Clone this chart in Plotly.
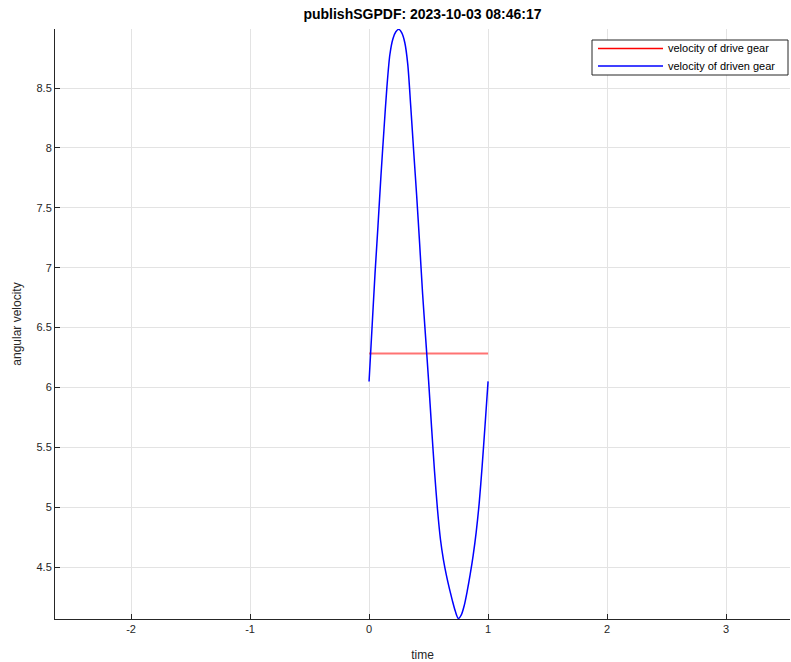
import plotly.graph_objects as go

# Drive gear: constant angular velocity over one period
drive_t = [0.0, 1.0]
drive_v = [6.283, 6.283]

# Driven gear: values
driven_t = [0.0, 0.025, 0.05, 0.075, 0.1, 0.125, 0.15, 0.175, 0.2, 0.225,
            0.25, 0.275, 0.3, 0.325, 0.35, 0.375, 0.4, 0.425, 0.45, 0.475,
            0.5, 0.525, 0.55, 0.575, 0.6, 0.625, 0.65, 0.675, 0.7, 0.725,
            0.75, 0.775, 0.8, 0.825, 0.85, 0.875, 0.9, 0.925, 0.95, 0.975, 1.0]
driven_v = [6.05, 6.50, 6.95, 7.35, 7.77, 8.15, 8.51, 8.78, 8.91, 8.97,
            8.99, 8.96, 8.88, 8.70, 8.35, 7.97, 7.60, 7.20, 6.78, 6.42,
            6.06, 5.67, 5.30, 4.98, 4.73, 4.56, 4.43, 4.32, 4.22, 4.13,
            4.07, 4.10, 4.18, 4.30, 4.44, 4.60, 4.79, 5.03, 5.34, 5.69, 6.05]

x_ticks = [-2, -1, 0, 1, 2, 3]
y_ticks = [4.5, 5, 5.5, 6, 6.5, 7, 7.5, 8, 8.5]

series_names = ["velocity of drive gear", "velocity of driven gear"]
series_colors = ["#ff0000", "#0000ff"]

font_family = "Liberation Sans, Arial, Helvetica, sans-serif"
axis_color = "#262626"
grid_color = "#e3e3e3"

fig = go.Figure()
fig.add_trace(go.Scatter(x=drive_t, y=drive_v, mode="lines",
                         name=series_names[0], showlegend=False,
                         line=dict(color="rgba(255,0,0,0.55)", width=2)))
fig.add_trace(go.Scatter(x=driven_t, y=driven_v, mode="lines",
                         name=series_names[1], showlegend=False,
                         line=dict(color=series_colors[1], width=1.5,
                                   shape="spline", smoothing=0.8)))

W, H = 791, 662
# plot area in window pixels: left 55, right 790, top 29, bottom 619
ml, mr, mt, mb = 55, W - 790, 29, H - 619
pw, ph = W - ml - mr, H - mt - mb


def px(xw):
    return (xw - ml) / pw


def py(yw):
    return (H - mb - yw) / ph


shapes = [dict(type="rect", xref="paper", yref="paper",
               x0=px(592), x1=px(788), y0=py(75), y1=py(40),
               line=dict(color=axis_color, width=1), fillcolor="white", layer="above")]
annotations = []
for i, (name, col) in enumerate(zip(series_names, series_colors)):
    yy = 48.5 + i * 17.5
    shapes.append(dict(type="line", xref="paper", yref="paper",
                       x0=px(598), x1=px(663), y0=py(yy), y1=py(yy),
                       line=dict(color=col, width=1.5), layer="above"))
    annotations.append(dict(text=name, xref="paper", yref="paper",
                            x=px(666), y=py(yy), xanchor="left", yanchor="middle",
                            showarrow=False,
                            font=dict(size=11, color="#000000", family=font_family)))

fig.update_layout(
    width=W, height=H,
    margin=dict(l=ml, r=mr, t=mt, b=mb, autoexpand=False),
    paper_bgcolor="white", plot_bgcolor="white",
    font=dict(family=font_family, size=11, color=axis_color),
    title=dict(text="<b>publishSGPDF: 2023-10-03 08:46:17</b>",
               x=0.5, xref="paper", xanchor="center",
               y=1 - 14 / H, yref="container", yanchor="middle",
               font=dict(size=14, color="#000000")),
    showlegend=False,
    shapes=shapes,
    annotations=annotations,
)

fig.update_xaxes(
    range=[-2.639, 3.537], tickvals=x_ticks, ticktext=[str(v) for v in x_ticks],
    showgrid=True, gridcolor=grid_color, gridwidth=1,
    showline=True, linecolor=axis_color, linewidth=1,
    ticks="inside", ticklen=5, tickcolor=axis_color,
    zeroline=False, mirror=False, automargin=False,
    title=dict(text="time", font=dict(size=12, color=axis_color), standoff=16),
)
fig.update_yaxes(
    range=[4.066, 8.993], tickvals=y_ticks, ticktext=[f"{v:g}" for v in y_ticks],
    showgrid=True, gridcolor=grid_color, gridwidth=1,
    showline=True, linecolor=axis_color, linewidth=1,
    ticks="inside", ticklen=5, tickcolor=axis_color,
    zeroline=False, mirror=False, automargin=False,
    title=dict(text="angular velocity", font=dict(size=12, color=axis_color), standoff=12),
)

# remove the default page margin so the figure fills the window exactly
fig.write_html("out.html",
               config={"displayModeBar": False},
               post_script="document.body.style.margin='0';document.body.style.overflow='hidden';")
